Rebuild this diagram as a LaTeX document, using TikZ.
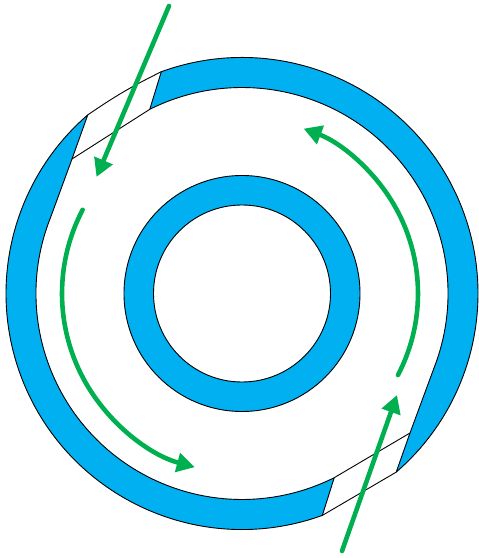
\documentclass[tikz,border=0pt]{standalone}
\usetikzlibrary{arrows.meta}
\definecolor{ringblue}{HTML}{00B0F0}
\definecolor{flowgreen}{HTML}{00B050}
\tikzset{
  ringfill/.style={fill=ringblue,draw=black,line width=0.9pt,line join=round},
  gapline/.style={draw=black,line width=0.9pt},
  flow/.style={draw=flowgreen,line width=4.6pt,line cap=round,-{Triangle[length=18pt,width=19pt]}}
}
\begin{document}
\begin{tikzpicture}[x=1pt,y=1pt]
\useasboundingbox (0,0) rectangle (479,558);
\coordinate (c) at (242,264.5);
% upper right piece of the outer ring
\path[ringfill] ([shift={(110:236)}]c) coordinate (a1)
  arc[start angle=110,end angle=-49.2,radius=236] coordinate (a2)
  -- (410,125) -- ([shift={(-18.8:206)}]c)
  arc[start angle=-18.8,end angle=116.6,radius=206] coordinate (a3) -- cycle;
% lower left piece of the outer ring
\path[ringfill] ([shift={(-70.1:236)}]c) coordinate (b1)
  arc[start angle=-70.1,end angle=-229.2,radius=236] coordinate (b2)
  -- (72,399) coordinate (b3) -- ([shift={(-201.7:206)}]c)
  arc[start angle=-201.7,end angle=-63.4,radius=206] coordinate (b4) -- cycle;
% slot edges
\coordinate (a4) at (410,125);
\draw[gapline] (b2) to[bend left=4] (a1);
\draw[gapline] (b3) -- (a3);
\draw[gapline] (a4) -- (b4);
\draw[gapline] (a2) -- (b1);
% inner ring
\fill[ringblue,draw=black,line width=0.9pt,even odd rule] (c) circle[radius=118] (c) circle[radius=88.5];
% flow arrows
\coordinate (s1) at (169,552);
\coordinate (t1) at (96.5,381);
\coordinate (s2) at (342,7);
\coordinate (t2) at (397,163);
\draw[flow] (s1) -- (t1);
\draw[flow] (s2) -- (t2);
\draw[flow] ([shift={(152.3:180)}]c) arc[start angle=152.3,end angle=254.8,radius=180];
\draw[flow] ([shift={(-27.6:176)}]c) arc[start angle=-27.6,end angle=69.5,radius=176];
\end{tikzpicture}
\end{document}
